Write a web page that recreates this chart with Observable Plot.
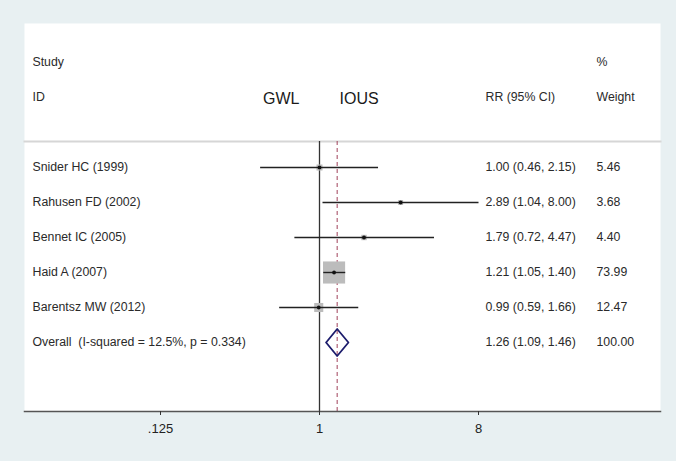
<!DOCTYPE html>
<html>
<head>
<meta charset="utf-8">
<script src="https://cdn.jsdelivr.net/npm/d3@7"></script>
<script src="https://cdn.jsdelivr.net/npm/@observablehq/plot@0.6"></script>
<style>
  html, body { margin: 0; padding: 0; background: #ffffff; }
  #chart svg { display: block; }
</style>
</head>
<body>
<div id="chart"></div>
<script>
// ---- data ----
const studies = ["Snider HC (1999)", "Rahusen FD (2002)", "Bennet IC (2005)", "Haid A (2007)", "Barentsz MW (2012)"];
const rr      = [1.00, 2.89, 1.79, 1.21, 0.99];
const lower   = [0.46, 1.04, 0.72, 1.05, 0.59];
const upper   = [2.15, 8.00, 4.47, 1.40, 1.66];
const weights = [5.46, 3.68, 4.40, 73.99, 12.47];

const overallLabel  = "Overall\u00a0 (I-squared = 12.5%, p = 0.334)";
const overallRR     = 1.26;
const overallLower  = 1.09;
const overallUpper  = 1.46;
const overallWeight = 100.00;

const xTicks = [0.125, 1, 8];
const headerLeft  = ["Study", "ID"];
const headerRight = ["%", "Weight"];
const headerRR    = "RR (95% CI)";
const favourLeft  = "GWL";
const favourRight = "IOUS";

// ---- tables built from the arrays ----
const rows = studies.map((s, i) => ({
  i, study: s, rr: rr[i], lo: lower[i], hi: upper[i], w: weights[i],
  ci: `${rr[i].toFixed(2)} (${lower[i].toFixed(2)}, ${upper[i].toFixed(2)})`,
  wt: weights[i].toFixed(2)
}));
const oi = studies.length;
const overallRow = {
  i: oi, study: overallLabel,
  ci: `${overallRR.toFixed(2)} (${overallLower.toFixed(2)}, ${overallUpper.toFixed(2)})`,
  wt: overallWeight.toFixed(2)
};
const allRows = [...rows, overallRow];
const dh = 0.386; // diamond half height in row units
const diamond = [
  {x: overallLower, y: oi}, {x: overallRR, y: oi - dh},
  {x: overallUpper, y: oi}, {x: overallRR, y: oi + dh},
  {x: overallLower, y: oi}
];
const headers = [
  {y: -3, l: headerLeft[0], r: headerRight[0], m: ""},
  {y: -2, l: headerLeft[1], r: headerRight[1], m: headerRR}
];

const fmtTick = d => String(d).replace(/^0\./, ".");

const chart = Plot.plot({
  width: 676,
  height: 461,
  marginLeft: 24,
  marginRight: 16,
  marginTop: 23,
  marginBottom: 50,
  style: {background: "#e8f0f2", fontFamily: "'Liberation Sans', Arial, sans-serif", fontSize: "12px", color: "#333"},
  x: {type: "log", base: 2, domain: [1/8, 8], range: [160, 478], axis: null},
  y: {domain: [0, 5], range: [167, 342], axis: null},
  r: {type: "sqrt", domain: [0, 100], range: [0, 14.5]},
  marks: [
    Plot.frame({fill: "white", stroke: null}),
    Plot.frame({anchor: "top", insetTop: 118, stroke: "#d6d6d6", strokeWidth: 2}),
    Plot.ruleX([1], {insetTop: 118, stroke: "#333", strokeWidth: 1.3}),
    Plot.ruleX([overallRR], {insetTop: 118, stroke: "#a0405a", strokeWidth: 1, strokeDasharray: "4,3"}),
    // squares
    Plot.dot(rows, {x: "rr", y: "i", r: "w", symbol: "square", fill: "#bcbcbc", stroke: null}),
    // CIs
    Plot.link(rows, {x1: "lo", x2: "hi", y1: "i", y2: "i", stroke: "#222", strokeWidth: 1.4}),
    Plot.dot(rows, {x: "rr", y: "i", r: 1.9, fill: "#111", stroke: null}),
    // diamond
    Plot.line(diamond, {x: "x", y: "y", stroke: "#1c1c6c", strokeWidth: 1.8, curve: "linear"}),
    // text columns
    Plot.text(allRows, {y: "i", text: "study", frameAnchor: "left", textAnchor: "start", dx: 8, fill: "#2a2a2a", fontSize: 12.3}),
    Plot.text(allRows, {y: "i", text: "ci", frameAnchor: "left", textAnchor: "start", dx: 461, fill: "#2a2a2a", fontSize: 12.3}),
    Plot.text(allRows, {y: "i", text: "wt", frameAnchor: "left", textAnchor: "start", dx: 572, fill: "#2a2a2a", fontSize: 12.3}),
    // headers
    Plot.text(headers, {y: "y", text: "l", frameAnchor: "left", textAnchor: "start", dx: 8, fill: "#2a2a2a", fontSize: 12.3}),
    Plot.text(headers, {y: "y", text: "r", frameAnchor: "left", textAnchor: "start", dx: 572, fill: "#2a2a2a", fontSize: 12.3}),
    Plot.text(headers, {y: "y", text: "m", frameAnchor: "left", textAnchor: "start", dx: 461, fill: "#2a2a2a", fontSize: 12.3}),
    Plot.text([favourLeft], {x: 1, y: -1.95, text: d => d, textAnchor: "end", dx: -20, fill: "#1a1a1a", fontSize: 16}),
    Plot.text([favourRight], {x: 1, y: -1.95, text: d => d, textAnchor: "start", dx: 20, fill: "#1a1a1a", fontSize: 16}),
    // axis
    Plot.frame({anchor: "bottom", stroke: "#555", strokeWidth: 1.5}),
    Plot.axisX({ticks: xTicks, tickFormat: fmtTick, tickSize: 4, tickPadding: 8, stroke: "#333", fill: "#222", fontSize: 13, label: null})
  ]
});
document.getElementById("chart").appendChild(chart);
</script>
</body>
</html>
